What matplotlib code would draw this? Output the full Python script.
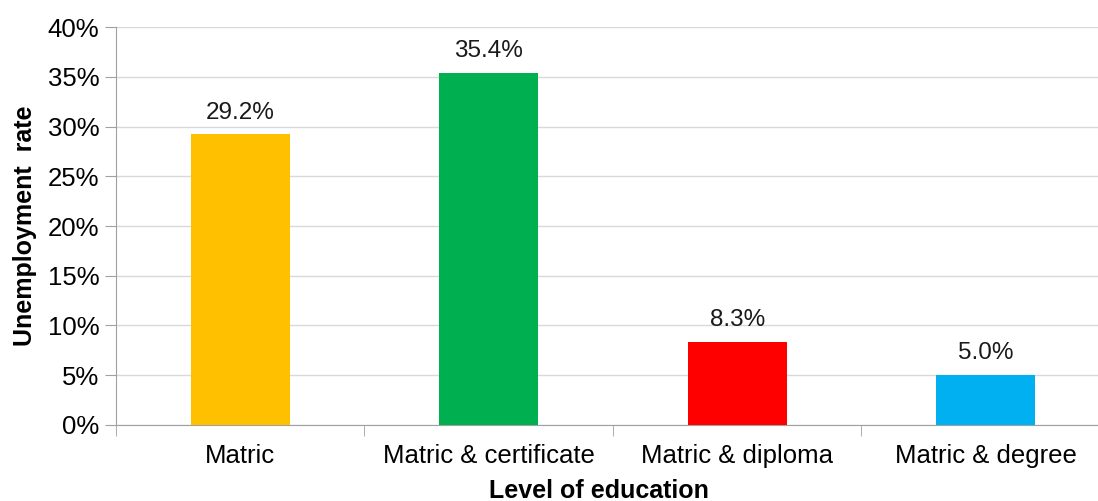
import matplotlib.pyplot as plt
from matplotlib.ticker import FuncFormatter

categories = ["Matric", "Matric & certificate", "Matric & diploma", "Matric & degree"]
rates = [29.2, 35.4, 8.3, 5.0]
colors = ["#FFC000", "#00B050", "#FF0000", "#00B0F0"]

plt.rcParams['font.family'] = ['Liberation Sans', 'DejaVu Sans']

fig = plt.figure(figsize=(10.98, 5.01), dpi=100)
ax = fig.add_axes([0.1056, 0.1517, 0.9053, 0.7944])

x = list(range(len(categories)))
ax.bar(x, rates, width=0.4, color=colors, zorder=3)
for xi, v in zip(x, rates):
    ax.text(xi, v + 1.1, f"{v:.1f}%", ha='center', va='bottom', fontsize=17.5, color='#1a1a1a')

ax.set_xlim(-0.5, len(categories) - 0.5)
ax.set_ylim(0, 40)
ax.set_yticks(range(0, 41, 5))
ax.yaxis.set_major_formatter(FuncFormatter(lambda v, p: f"{int(v)}%"))
ax.grid(axis='y', color='#d9d9d9', linewidth=1, zorder=0)

ax.set_xticks(x)
ax.set_xticklabels(categories)
ax.set_xticks([i - 0.5 for i in range(len(categories) + 1)], minor=True)
ax.tick_params(axis='x', which='major', length=0, pad=14, labelsize=18.5)
ax.tick_params(axis='x', which='minor', length=8, color='#a0a0a0', direction='out')
ax.tick_params(axis='y', length=8, color='#a0a0a0', labelsize=18.5, pad=4)

for s in ['top', 'right']:
    ax.spines[s].set_visible(False)
for s in ['left', 'bottom']:
    ax.spines[s].set_color('#a0a0a0')

ax.set_xlabel("Level of education", fontsize=18, fontweight='bold')
ax.xaxis.set_label_coords(0.486, -0.136)
ax.set_ylabel("Unemployment  rate", fontsize=18, fontweight='bold', labelpad=8)

plt.savefig("out.png", dpi=100)
